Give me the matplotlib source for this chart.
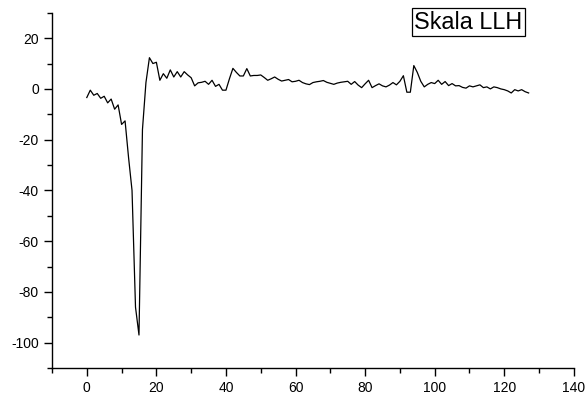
import matplotlib
matplotlib.use('Agg')
import matplotlib.pyplot as plt
from matplotlib.ticker import MultipleLocator
import numpy as np

# values, index 0..127
values = [
    -3.4, -0.5, -2.5, -1.8, -3.7, -2.9, -5.5, -4.0, -8.0, -6.3,
    -14.0, -12.6, -27.0, -40.0, -86.0, -97.0, -16.0, 2.5, 12.3, 10.0,
    10.5, 3.4, 6.0, 4.2, 7.5, 4.7, 6.8, 4.7, 6.8, 5.5,
    4.4, 1.2, 2.4, 2.6, 3.0, 1.8, 3.4, 1.0, 1.8, -0.5,
    -0.5, 4.0, 8.1, 6.5, 5.1, 5.1, 8.0, 5.1, 5.3, 5.3,
    5.5, 4.5, 3.4, 4.0, 4.7, 3.8, 3.1, 3.4, 3.7, 2.8,
    3.0, 3.4, 2.5, 2.0, 1.7, 2.5, 2.8, 3.0, 3.3, 2.6,
    2.2, 1.8, 2.3, 2.6, 2.8, 3.0, 1.8, 2.9, 1.5, 0.5,
    2.0, 3.4, 0.5, 1.3, 2.0, 1.2, 0.8, 1.5, 2.5, 1.6,
    3.0, 5.2, -1.3, -1.3, 9.2, 6.5, 3.0, 0.8, 1.8, 2.5,
    2.1, 3.4, 1.8, 2.9, 1.3, 2.1, 1.2, 1.3, 0.6, 0.3,
    1.2, 0.8, 1.2, 1.6, 0.5, 0.8, 0.0, 0.8, 0.5, 0.0,
    -0.3, -0.8, -1.6, -0.3, -0.8, -0.3, -1.1, -1.6,
]
index = np.arange(len(values))
label = 'Skala LLH'

plt.rcParams['font.family'] = ['Liberation Sans', 'DejaVu Sans']
plt.rcParams['axes.unicode_minus'] = False

fig = plt.figure(figsize=(5.87, 3.96), dpi=100)
ax = fig.add_axes([0.0886, 0.0707, 0.889, 0.897])

ax.plot(index, values, color='black', linewidth=0.9)

ax.set_xlim(-10, 140)
ax.set_ylim(-110, 30)
ax.xaxis.set_major_locator(MultipleLocator(20))
ax.xaxis.set_minor_locator(MultipleLocator(10))
ax.yaxis.set_minor_locator(MultipleLocator(10))
ax.set_yticks([-100, -80, -60, -40, -20, 0, 20])

for side in ['top', 'right']:
    ax.spines[side].set_visible(False)
for side in ['left', 'bottom']:
    ax.spines[side].set_linewidth(1.0)

ax.tick_params(which='major', direction='out', length=6, width=1.0,
               labelsize=10, pad=3.5)
ax.tick_params(which='minor', direction='out', length=3.5, width=1.0)

ax.text(0.798, 0.944, label, transform=fig.transFigure, fontsize=16.8,
        ha='center', va='center',
        bbox=dict(boxstyle='square,pad=0.1', facecolor='white',
                  edgecolor='black', linewidth=0.9))

fig.savefig('out.png', dpi=100)
